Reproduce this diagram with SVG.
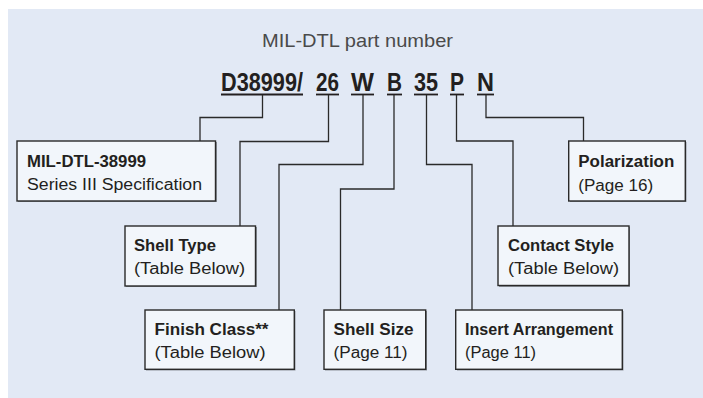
<svg xmlns="http://www.w3.org/2000/svg" width="703" height="398" viewBox="0 0 703 398">
<style>
.t{font-family:"Liberation Sans Narrow","Liberation Sans",Arial,sans-serif;fill:#231f20}
.pn{font-size:26px;font-weight:bold}
.b{font-size:16px;font-weight:bold}
.r{font-size:16px}
.box{fill:#f2f6fb;stroke:#2a2a2a;stroke-width:1.4}
.sh{fill:#8e949c}
.ul{stroke:#231f20;stroke-width:1.8}
#connectors path{fill:none;stroke:#2a2a2a;stroke-width:1.3}
</style>
<rect x="8" y="9" width="695" height="389" fill="#e2e9f5"/>
<text class="t" x="262" y="47" font-size="19" style="fill:#4a4a4a" textLength="191" lengthAdjust="spacingAndGlyphs">MIL-DTL part number</text>
<g id="partnumber">
<text class="t pn" transform="translate(221,91) scale(0.82,1)" x="0" y="0" textLength="100" lengthAdjust="spacingAndGlyphs">D38999/</text>
<text class="t pn" transform="translate(316,91) scale(0.82,1)" x="0" y="0" textLength="28" lengthAdjust="spacingAndGlyphs">26</text>
<text class="t pn" transform="translate(351,91) scale(0.82,1)" x="0" y="0" textLength="28" lengthAdjust="spacingAndGlyphs">W</text>
<text class="t pn" transform="translate(387,91) scale(0.82,1)" x="0" y="0" textLength="18.3" lengthAdjust="spacingAndGlyphs">B</text>
<text class="t pn" transform="translate(414,91) scale(0.82,1)" x="0" y="0" textLength="29.3" lengthAdjust="spacingAndGlyphs">35</text>
<text class="t pn" transform="translate(450,91) scale(0.82,1)" x="0" y="0" textLength="17.1" lengthAdjust="spacingAndGlyphs">P</text>
<text class="t pn" transform="translate(477,91) scale(0.82,1)" x="0" y="0" textLength="20.7" lengthAdjust="spacingAndGlyphs">N</text>
<line class="ul" x1="221" y1="94.5" x2="303" y2="94.5"/>
<line class="ul" x1="316" y1="94.5" x2="339" y2="94.5"/>
<line class="ul" x1="351" y1="94.5" x2="374" y2="94.5"/>
<line class="ul" x1="387" y1="94.5" x2="402" y2="94.5"/>
<line class="ul" x1="414" y1="94.5" x2="438" y2="94.5"/>
<line class="ul" x1="450" y1="94.5" x2="464" y2="94.5"/>
<line class="ul" x1="477" y1="94.5" x2="494" y2="94.5"/>
</g>
<g id="connectors">
<path d="M262.5,95 V117.5 H200 V141"/>
<path d="M328.5,95 V141.5 H240 V226"/>
<path d="M363,95 V164.5 H279 V310"/>
<path d="M394,95 V189 H340.5 V310"/>
<path d="M426.5,95 V164.5 H472 V310"/>
<path d="M456.5,95 V141 H513 V226"/>
<path d="M486,95 V117.5 H583.5 V141"/>
</g>
<g id="spec">
<rect class="sh" x="18" y="142" width="199" height="60"/>
<rect class="box" x="17" y="141" width="198.5" height="60"/>
<text class="t b" x="27" y="166.5" textLength="119" lengthAdjust="spacingAndGlyphs">MIL-DTL-38999</text>
<text class="t r" x="27" y="190" textLength="175" lengthAdjust="spacingAndGlyphs">Series III Specification</text>
</g>
<g id="shelltype">
<rect class="sh" x="126" y="227" width="131" height="60"/>
<rect class="box" x="125" y="226" width="130.5" height="60"/>
<text class="t b" x="134" y="250.5" textLength="82" lengthAdjust="spacingAndGlyphs">Shell Type</text>
<text class="t r" x="134" y="274" textLength="111" lengthAdjust="spacingAndGlyphs">(Table Below)</text>
</g>
<g id="finish">
<rect class="sh" x="146" y="311" width="149.5" height="59.5"/>
<rect class="box" x="145" y="310" width="149.3" height="59.3"/>
<text class="t b" x="154.5" y="335" textLength="114" lengthAdjust="spacingAndGlyphs">Finish Class**</text>
<text class="t r" x="154.5" y="358.3" textLength="111" lengthAdjust="spacingAndGlyphs">(Table Below)</text>
</g>
<g id="shellsize">
<rect class="sh" x="325" y="311" width="102" height="59.5"/>
<rect class="box" x="324" y="310" width="101.7" height="59.3"/>
<text class="t b" x="333.5" y="335" textLength="80" lengthAdjust="spacingAndGlyphs">Shell Size</text>
<text class="t r" x="333.5" y="358.3" textLength="74" lengthAdjust="spacingAndGlyphs">(Page 11)</text>
</g>
<g id="insert">
<rect class="sh" x="457" y="311" width="166.5" height="59.5"/>
<rect class="box" x="455.7" y="310" width="166.6" height="59.3"/>
<text class="t b" x="465" y="335" textLength="148" lengthAdjust="spacingAndGlyphs">Insert Arrangement</text>
<text class="t r" x="465" y="358.3" textLength="71" lengthAdjust="spacingAndGlyphs">(Page 11)</text>
</g>
<g id="contact">
<rect class="sh" x="499" y="227" width="131" height="60"/>
<rect class="box" x="498" y="226" width="131" height="59.5"/>
<text class="t b" x="508" y="250.5" textLength="106" lengthAdjust="spacingAndGlyphs">Contact Style</text>
<text class="t r" x="508" y="274" textLength="111" lengthAdjust="spacingAndGlyphs">(Table Below)</text>
</g>
<g id="polarization">
<rect class="sh" x="570" y="142" width="116.5" height="60"/>
<rect class="box" x="568.7" y="141" width="116.6" height="60"/>
<text class="t b" x="578.3" y="166.5" textLength="96" lengthAdjust="spacingAndGlyphs">Polarization</text>
<text class="t r" x="578.3" y="190.5" textLength="75" lengthAdjust="spacingAndGlyphs">(Page 16)</text>
</g>
</svg>
